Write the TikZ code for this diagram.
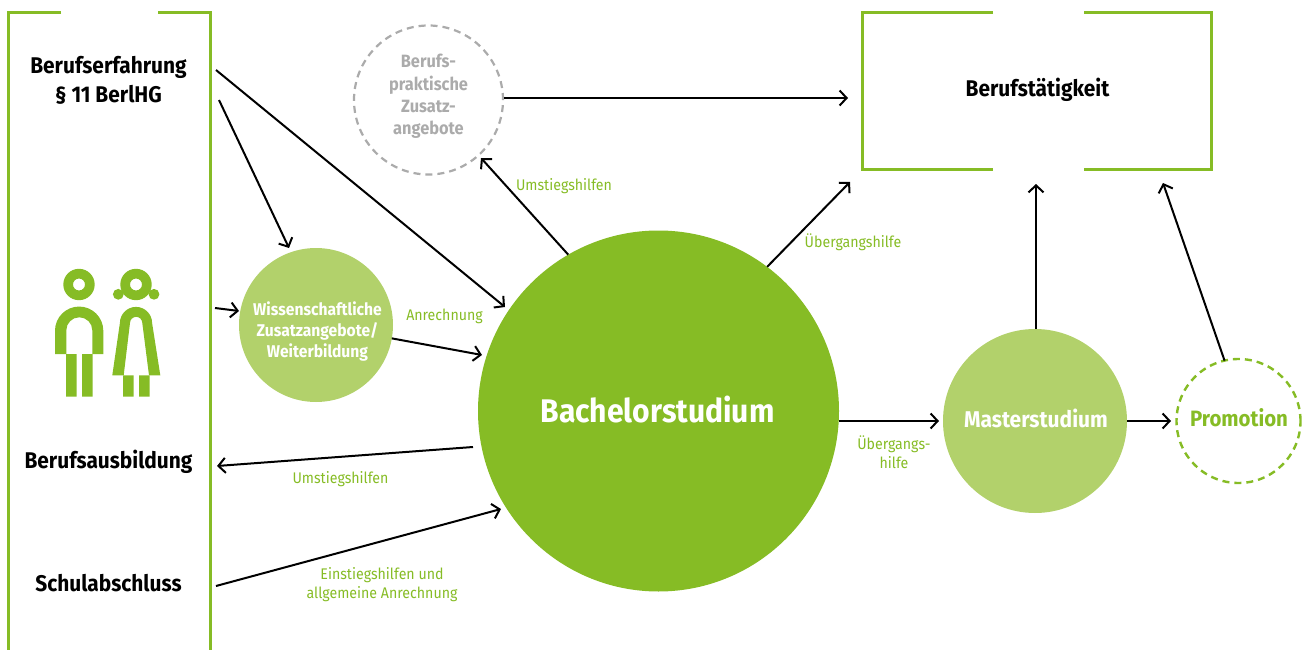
\documentclass[tikz,border=0pt]{standalone}
\usepackage{fontspec}
\setmainfont{Fira Sans}[FakeStretch=0.92]
\usetikzlibrary{arrows.meta}
\definecolor{grn}{HTML}{86BC25}
\definecolor{lgrn}{HTML}{B2D16B}
\definecolor{gry}{HTML}{ABABAB}
\newcommand{\fsz}[2]{\fontsize{#1}{#2}\selectfont}
\tikzset{
  x=1pt,y=-1pt,
  conn/.style={draw=black,line width=2pt,-{Straight Barb[length=7pt,width=15pt,line width=2pt]}},
  frame/.style={draw=grn,line width=3pt,line cap=butt,line join=miter},
  disc/.style={circle,inner sep=0pt,outer sep=0pt},
  head/.style={align=center,inner sep=0pt,font=\bfseries\fsz{22.7}{29},text=black},
  lab/.style={align=center,inner sep=0pt,text=grn,font=\fsz{15.4}{19}},
  icon/.style={fill=grn,draw=none,even odd rule}
}
\begin{document}
\begin{tikzpicture}
\useasboundingbox (0,0) rectangle (1304,650);
% frames
\draw[frame] (61,12.5) -- (8,12.5) -- (8,650);
\draw[frame] (158,12.5) -- (210,12.5) -- (210,650);
\draw[frame] (993,12.5) -- (862,12.5) -- (862,170) -- (993,170);
\draw[frame] (1084,12.5) -- (1211,12.5) -- (1211,170) -- (1084,170);
% discs
\node[disc,fill=grn,minimum size=361pt] (bach) at (658.5,411) {};
\node[disc,fill=lgrn,minimum size=184pt] (master) at (1035,421) {};
\node[disc,fill=lgrn,minimum size=154pt] (wiss) at (316,325) {};
\node[disc,draw=grn,line width=2.4pt,dash pattern=on 7pt off 5pt,minimum size=124pt] (promo) at (1238.5,421) {};
\node[disc,draw=gry,line width=2.2pt,dash pattern=on 7pt off 5pt,minimum size=149pt] (prakt) at (428.5,100) {};
\node[align=center,inner sep=0pt,text=white,font=\bfseries\fsz{17}{21}] (wissl) at (317.5,331) {Wissenschaftliche\\Zusatzangebote/\\Weiterbildung};
\node[align=center,inner sep=0pt,text=gry,font=\bfseries\fsz{17.8}{22.4}] (praktl) at (428.5,96.5) {Berufs-\\praktische\\Zusatz-\\angebote};
\node[inner sep=0pt,text=white,font=\bfseries\fsz{32.7}{36}] (bachl) at (657.5,409.5) {Bachelorstudium};
\node[inner sep=0pt,text=white,font=\bfseries\fsz{22.8}{26}] (masterl) at (1036,418.5) {Masterstudium};
\node[inner sep=0pt,text=grn,font=\bfseries\fsz{22.2}{26}] (promol) at (1239,418) {Promotion};
% headings
\node[head] (erf) at (108.5,80.5) {Berufserfahrung\\§ 11 BerlHG};
\node[head] (ausb) at (108.5,462) {Berufsausbildung};
\node[head] (schul) at (108.5,583) {Schulabschluss};
\node[head] (taet) at (1037.5,90) {Berufstätigkeit};
% icon
\fill[icon] (79,284.5) circle (15.7) (79,284.5) circle (6);
\fill[icon] (55,354) -- (55,330.7) arc[start angle=180,end angle=360,radius=24.15] -- (103.3,354) -- (92.3,354) -- (92.3,330.3) arc[start angle=0,end angle=-180,radius=13] -- (66.3,354) -- cycle;
\fill[icon] (66,354) rectangle (76.7,396.7) (82,354) rectangle (92.7,396.7);
\fill[icon] (136,284.5) circle (15.7) (136,284.5) circle (6);
\fill[grn] (118.3,294.3) circle (5.4) (154,294.3) circle (5.4);
\fill[icon] (112.3,375.3) -- (119.9,323) arc[start angle=180,end angle=360,radius=16.1] -- (160.3,375.3) -- (149,375.3) -- (142.3,323) arc[start angle=0,end angle=-180,radius=6.15] -- (123.7,375.3) -- cycle;
\fill[icon] (123,375.3) rectangle (133.7,396.7) (139,375.3) rectangle (149.7,396.7);
% free ends
\coordinate (a1s) at (216,70);   \coordinate (a1e) at (505,307);
\coordinate (a2s) at (219,100);  \coordinate (a2e) at (289,248);
\coordinate (a3s) at (215,308);  \coordinate (a3e) at (239,311);
\coordinate (a4e) at (482,355);
\coordinate (a5s) at (473,447);  \coordinate (a5e) at (217,466);
\coordinate (a6s) at (216,586);  \coordinate (a6e) at (501,509);
\coordinate (a7s) at (504,98);   \coordinate (a7e) at (848,98);
\coordinate (a8e) at (481,158);
\coordinate (a9e) at (850,182);
\coordinate (a10e) at (939,421);
\coordinate (a11e) at (1036,184);
\coordinate (a12e) at (1171,421);
\coordinate (a13e) at (1163,183);
% connectors
\draw[conn] (a1s) -- (a1e);
\draw[conn] (a2s) -- (a2e);
\draw[conn] (a3s) -- (a3e);
\draw[conn] (wiss.-10) -- (a4e);
\draw[conn] (a5s) -- (a5e);
\draw[conn] (a6s) -- (a6e);
\draw[conn] (a7s) -- (a7e);
\draw[conn] (bach.120.4) -- (a8e);
\draw[conn] (bach.53.5) -- (a9e);
\draw[conn] (bach.east |- a10e) -- (a10e);
\draw[conn] (master.north -| a11e) -- (a11e);
\draw[conn] (master.east) -- (a12e);
\draw[conn] (promo.103) -- (a13e);
% labels
\node[lab] (l1) at (564,186) {Umstiegshilfen};
\node[lab] (l2) at (853,242) {Übergangshilfe};
\node[lab] (l3) at (444.5,316) {Anrechnung};
\node[lab] (l4) at (340.5,479) {Umstiegshilfen};
\node[lab] (l5) at (894,452) {Übergangs-\\hilfe};
\node[lab] (l6) at (382,585) {Einstiegshilfen und\\allgemeine Anrechnung};
\end{tikzpicture}
\end{document}
